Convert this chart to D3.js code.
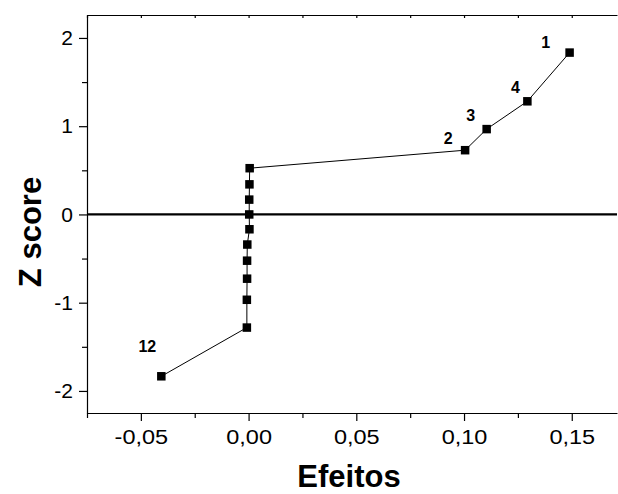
<!DOCTYPE html>
<html lang="en">
<head>
  <meta charset="UTF-8">
  <title>Z score vs Efeitos</title>
  <script src="https://d3js.org/d3.v7.min.js"></script>
  <style>
    body { margin: 0; background: #fff; }
    svg { display: block; font-family: "Liberation Sans", Arial, sans-serif; }
    .axis path, .axis line { stroke: #000; stroke-width: 1.2px; }
    .axis text { font-size: 21px; fill: #000; }
    .title { font-weight: bold; font-size: 31px; }
    .lbl { font-weight: bold; font-size: 16px; }
  </style>
</head>
<body>
  <div id="chart"></div>
  <script>
    const width = 618, height = 494;
    const margin = {top: 15, right: 1, bottom: 81, left: 87};

    // effects (x) and normal scores (z), sorted by z
    const efeitos = [-0.0405, -0.0008, -0.0008, -0.0007, -0.0007, -0.0006, 0.0004, 0.0003,
                     0.0003, 0.0004, 0.0005, 0.1005, 0.1105, 0.1294, 0.149];
    const zScores = [-1.834, -1.282, -0.967, -0.728, -0.524, -0.341, -0.168, 0,
                     0.168, 0.341, 0.524, 0.728, 0.967, 1.282, 1.834];
    const pointLabels = ["12", "", "", "", "", "", "", "", "", "", "", "2", "3", "4", "1"];

    const xTicks = [-0.05, 0, 0.05, 0.1, 0.15];
    const xMinor = [-0.075, -0.025, 0.025, 0.075, 0.125];
    const yTicks = [-2, -1, 0, 1, 2];
    const yMinor = [-1.5, -0.5, 0.5, 1.5];

    const data = efeitos.map((e, i) => ({x: e, z: zScores[i], label: pointLabels[i]}));

    const svg = d3.select("#chart").append("svg")
      .attr("width", width)
      .attr("height", height);

    const x = d3.scaleLinear().domain([-0.075, 0.171]).range([margin.left, width - margin.right]);
    const y = d3.scaleLinear().domain([-2.25, 2.26]).range([height - margin.bottom, margin.top]);

    const fmt = d => d3.format(".2f")(d).replace(".", ",").replace("−", "-");

    // minor ticks
    svg.append("g").attr("class", "axis")
      .attr("transform", `translate(0,${height - margin.bottom})`)
      .call(d3.axisBottom(x).tickValues(xMinor).tickSize(5).tickFormat(""))
      .call(g => g.select(".domain").remove());
    svg.append("g").attr("class", "axis")
      .attr("transform", `translate(${margin.left},0)`)
      .call(d3.axisLeft(y).tickValues(yMinor).tickSize(5).tickFormat(""))
      .call(g => g.select(".domain").remove());

    // top border with small inward ticks
    svg.append("g").attr("class", "axis")
      .attr("transform", `translate(0,${margin.top})`)
      .call(d3.axisBottom(x).tickValues(xTicks.concat(xMinor)).tickSizeInner(3).tickSizeOuter(0).tickFormat(""));

    // main axes
    const xAxis = svg.append("g").attr("class", "axis")
      .attr("transform", `translate(0,${height - margin.bottom})`)
      .call(d3.axisBottom(x).tickValues(xTicks).tickSizeInner(8).tickSizeOuter(0).tickPadding(8).tickFormat(fmt));
    xAxis.selectAll(".tick text").attr("transform", "scale(1.12,1)");

    svg.append("g").attr("class", "axis")
      .attr("transform", `translate(${margin.left},0)`)
      .call(d3.axisLeft(y).tickValues(yTicks).tickSizeInner(8).tickSizeOuter(0).tickPadding(6)
        .tickFormat(d => String(d)));

    // zero line
    svg.append("line")
      .attr("x1", margin.left).attr("x2", width - margin.right)
      .attr("y1", y(0)).attr("y2", y(0))
      .attr("stroke", "#000").attr("stroke-width", 2.2);

    // connecting line
    const line = d3.line().x(d => x(d.x)).y(d => y(d.z));
    svg.append("path")
      .datum(data)
      .attr("d", line)
      .attr("fill", "none")
      .attr("stroke", "#000")
      .attr("stroke-width", 1);

    const s = 8.5;
    svg.append("g").selectAll("rect")
      .data(data)
      .join("rect")
      .attr("x", d => x(d.x) - s / 2)
      .attr("y", d => y(d.z) - s / 2)
      .attr("width", s)
      .attr("height", s)
      .attr("fill", "#000");

    // label offsets relative to their point
    const offsets = {"1": [-24, -10], "2": [-17, -12], "3": [-16, -14], "4": [-12, -14], "12": [-14, -30]};
    svg.append("g").selectAll("text")
      .data(data.filter(d => d.label))
      .join("text")
      .attr("class", "lbl")
      .attr("x", d => x(d.x) + offsets[d.label][0])
      .attr("y", d => y(d.z) + offsets[d.label][1])
      .attr("text-anchor", "middle")
      .attr("dominant-baseline", "central")
      .text(d => d.label);

    // titles
    svg.append("text")
      .attr("class", "title")
      .attr("text-anchor", "middle")
      .attr("x", 349)
      .attr("y", 487)
      .text("Efeitos");

    svg.append("text")
      .attr("class", "title")
      .attr("text-anchor", "middle")
      .attr("transform", `translate(41,232) rotate(-90)`)
      .text("Z score");
  </script>
</body>
</html>
